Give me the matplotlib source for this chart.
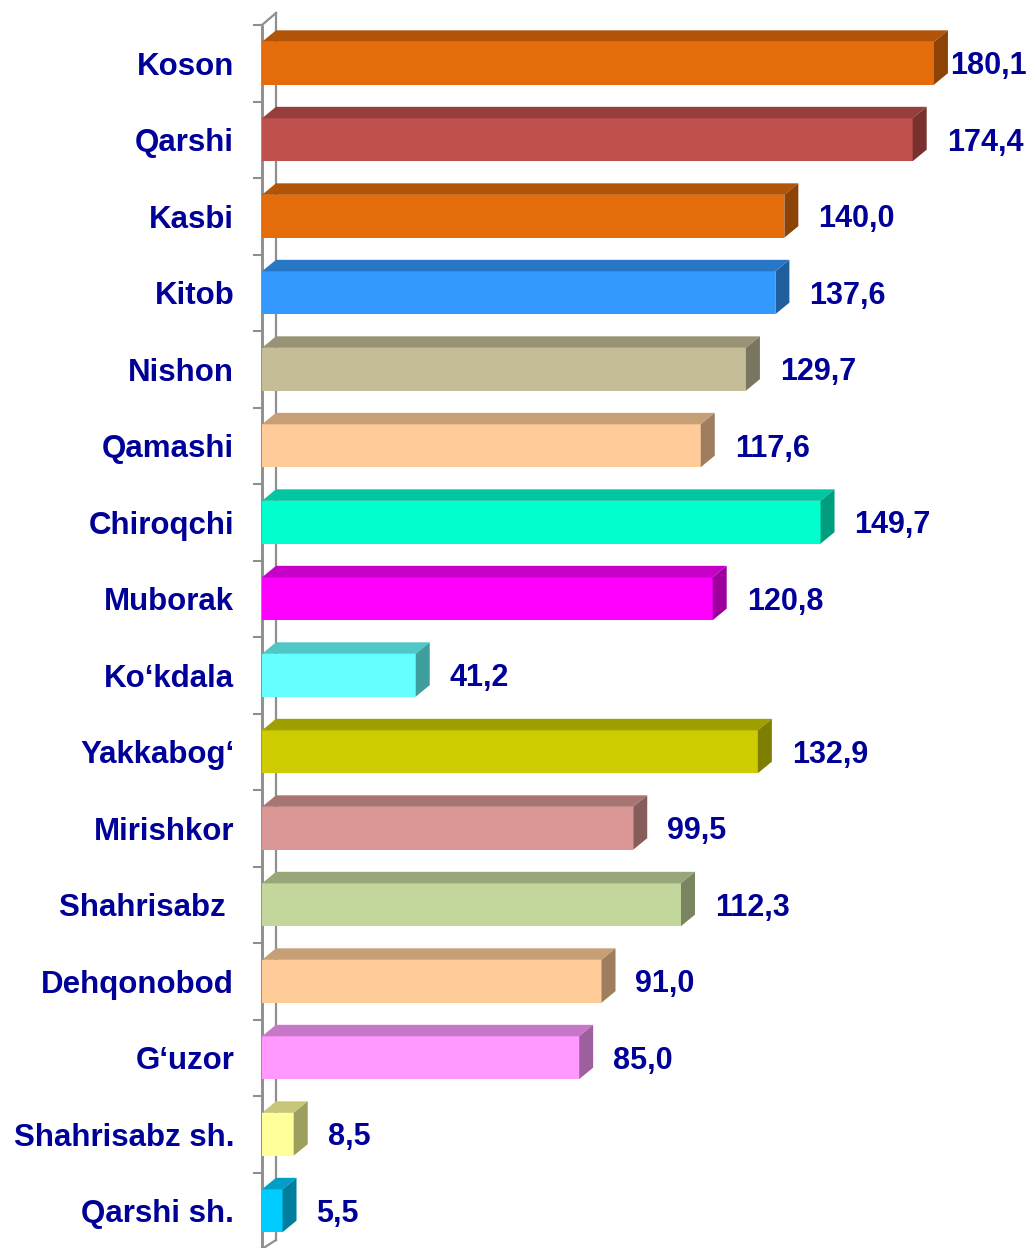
import matplotlib
matplotlib.use("Agg")
import matplotlib.pyplot as plt
from matplotlib.patches import Polygon
from matplotlib.colors import to_rgb
import numpy as np

categories = ["Koson", "Qarshi", "Kasbi", "Kitob", "Nishon", "Qamashi", "Chiroqchi",
              "Muborak", "Ko\u2018kdala", "Yakkabog\u2018", "Mirishkor", "Shahrisabz ",
              "Dehqonobod", "G\u2018uzor", "Shahrisabz sh.", "Qarshi sh."]
values = [180.1, 174.4, 140.0, 137.6, 129.7, 117.6, 149.7, 120.8, 41.2, 132.9,
          99.5, 112.3, 91.0, 85.0, 8.5, 5.5]
value_labels = ["180,1", "174,4", "140,0", "137,6", "129,7", "117,6", "149,7", "120,8",
                "41,2", "132,9", "99,5", "112,3", "91,0", "85,0", "8,5", "5,5"]
colors = ["#E46C0A", "#C0504D", "#E46C0A", "#3399FF", "#C4BD97", "#FFCC99", "#00FFCC",
          "#FF00FF", "#66FFFF", "#CCCC00", "#D99694", "#C3D69B", "#FFCC99", "#FF99FF",
          "#FFFF99", "#00CCFF"]

W, H = 1030, 1248
DPI = 100
fig = plt.figure(figsize=(W / DPI, H / DPI), dpi=DPI)
x0_px, top_px, bot_px = 262, 25, 1249
ax = fig.add_axes([x0_px / W, (H - bot_px) / H, (W - x0_px) / W, (bot_px - top_px) / H])

px_per_unit = 3.731
ax.set_xlim(0, (W - x0_px) / px_per_unit)
n = len(categories)
ax.set_ylim(n - 0.5, -0.5)
cat_px = (bot_px - top_px) / n

dx = 14 / px_per_unit
dy = 11.5 / cat_px
bh = 0.56
grey = "#8F8F8F"

def shade(c, f):
    r, g, b = to_rgb(c)
    return (r * f, g * f, b * f)

# wall lines
ax.plot([0, 0], [-0.5, n - 0.5], color=grey, lw=2.1, zorder=1, clip_on=False,
        solid_capstyle="butt")
ax.plot([dx, dx], [-0.5 - 12 / cat_px, n - 0.5 - 9 / cat_px], color=grey, lw=1.6,
        zorder=1, clip_on=False)
ax.plot([0, dx], [-0.5, -0.5 - 12 / cat_px], color=grey, lw=1.6, zorder=1, clip_on=False)
ax.plot([0, dx], [n - 0.5, n - 0.5 - 9 / cat_px], color=grey, lw=1.6, zorder=1, clip_on=False)

ypos = np.arange(n)
ax.barh(ypos, values, height=bh, color=colors, edgecolor="none", zorder=3)
for i, (v, c) in enumerate(zip(values, colors)):
    yt = i - bh / 2
    yb = i + bh / 2
    top = Polygon([[0, yt], [dx, yt - dy], [v + dx, yt - dy], [v, yt]], closed=True,
                  facecolor=shade(c, 0.78), edgecolor="none", zorder=3)
    side = Polygon([[v, yt], [v + dx, yt - dy], [v + dx, yb - dy], [v, yb]], closed=True,
                   facecolor=shade(c, 0.62), edgecolor="none", zorder=3)
    ax.add_patch(top)
    ax.add_patch(side)
    lx = min(v + 9.1, (950 - x0_px) / px_per_unit)
    ax.text(lx, i + 0.04, value_labels[i], ha="left", va="center", fontsize=22,
            fontweight="bold", color="#000099", family="Liberation Sans", zorder=4,
            clip_on=False)

for s in ax.spines.values():
    s.set_visible(False)
ax.set_xticks([])
ax.set_yticks(ypos)
ax.set_yticklabels(categories, fontsize=22.5, fontweight="bold", color="#000099",
                   family="Liberation Sans")
ax.tick_params(axis="y", which="major", length=0, pad=20)
ax.set_yticks(np.arange(-0.5, n, 1.0), minor=True)
ax.tick_params(axis="y", which="minor", length=6.5, width=1.5, color=grey)
ax.patch.set_alpha(0)

fig.savefig("out.png", dpi=DPI)
